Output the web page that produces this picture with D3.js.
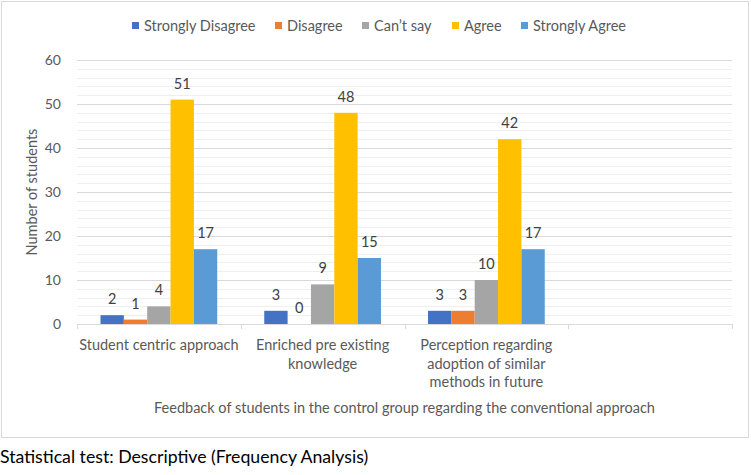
<!DOCTYPE html>
<html>
<head>
<meta charset="utf-8">
<script src="https://cdn.jsdelivr.net/npm/d3@7"></script>
<style>
  body { margin: 0; background: #fff; }
  svg { display: block; font-family: Lato, "Open Sans", sans-serif; }
</style>
</head>
<body>
<svg id="chart" width="751" height="475"></svg>
<script>
// data
const categories = [
    ["Student centric approach"],
    ["Enriched pre existing", "knowledge"],
    ["Perception regarding", "adoption of similar", "methods in future"],
    [""]
];
const seriesNames = ["Strongly Disagree", "Disagree", "Can\u2019t say", "Agree", "Strongly Agree"];
const seriesColors = ["#4472C4", "#ED7D31", "#A5A5A5", "#FFC000", "#5B9BD5"];
const values = [
    [2, 1, 4, 51, 17],
    [3, 0, 9, 48, 15],
    [3, 3, 10, 42, 17]
];
const yTicks = [0, 10, 20, 30, 40, 50, 60];

const margins = { top: 60, right: 19, bottom: 151, left: 77 };
const width = 751;
const height = 475;
const plotBottom = 324;

const svg = d3.select("#chart");

// chart frame
svg.append("rect")
    .attr("x", 1.5).attr("y", 1.5)
    .attr("width", 747).attr("height", 436)
    .attr("fill", "#fff")
    .attr("stroke", "#D9D9D9");

const x0 = d3.scaleBand()
    .domain(d3.range(categories.length))
    .range([margins.left, width - margins.right])
    .paddingInner(0.287)
    .paddingOuter(0.1435);
const x1 = d3.scaleBand()
    .domain(d3.range(seriesNames.length))
    .range([0, x0.bandwidth()]);
const y = d3.scaleLinear()
    .domain([0, 60])
    .range([plotBottom, margins.top]);

// minor gridlines
svg.append("g")
    .selectAll("line")
    .data(d3.range(0, 61, 2).filter(v => v % 10 != 0))
    .join("line")
    .attr("x1", margins.left).attr("x2", width - margins.right)
    .attr("y1", d => Math.round(y(d)) + 0.5).attr("y2", d => Math.round(y(d)) + 0.5)
    .attr("stroke", "#EFEFEF");

// y axis
const gy = svg.append("g")
    .attr("transform", `translate(${margins.left},0)`)
    .call(d3.axisLeft(y).tickValues(yTicks).tickSize(-(width - margins.left - margins.right)).tickPadding(16))
    .call(g => g.select(".domain").remove());
gy.selectAll(".tick line").attr("stroke", "#D9D9D9");
gy.selectAll(".tick text")
    .attr("fill", "#595959")
    .attr("font-size", 14)
    .attr("font-family", "Lato, sans-serif");
gy.select(".tick line").remove(); // baseline drawn by x axis

// bars
const groups = svg.append("g")
    .selectAll("g")
    .data(values)
    .join("g")
    .attr("transform", (d, i) => `translate(${x0(i)},0)`);

groups.selectAll("rect")
    .data(d => d)
    .join("rect")
    .attr("x", (d, j) => x1(j))
    .attr("y", d => y(d))
    .attr("width", x1.bandwidth())
    .attr("height", d => y(0) - y(d))
    .attr("fill", (d, j) => seriesColors[j]);

groups.selectAll("text")
    .data(d => d)
    .join("text")
    .attr("x", (d, j) => x1(j) + x1.bandwidth() / 2)
    .attr("y", d => y(d) - 11)
    .attr("text-anchor", "middle")
    .attr("fill", "#404040")
    .attr("font-size", 14.5)
    .text(d => d);

// x axis
const step = x0.step();
const boundaries = d3.range(categories.length + 1).map(i => margins.left + i * step);
const gx = svg.append("g");
gx.append("line")
    .attr("x1", margins.left).attr("x2", width - margins.right)
    .attr("y1", plotBottom + 0.5).attr("y2", plotBottom + 0.5)
    .attr("stroke", "#D9D9D9");
gx.selectAll(".tk")
    .data(boundaries)
    .join("line")
    .attr("class", "tk")
    .attr("x1", d => Math.round(d) + 0.5).attr("x2", d => Math.round(d) + 0.5)
    .attr("y1", plotBottom).attr("y2", plotBottom + 5)
    .attr("stroke", "#D9D9D9");

const catLabels = gx.selectAll(".cat")
    .data(categories)
    .join("text")
    .attr("class", "cat")
    .attr("text-anchor", "middle")
    .attr("fill", "#595959")
    .attr("font-size", 14.5);
catLabels.selectAll("tspan")
    .data((d, i) => d.map(t => ({ t, i })))
    .join("tspan")
    .attr("x", d => x0(d.i) + x0.bandwidth() / 2)
    .attr("y", (d, k) => 350 + k * 18.5)
    .text(d => d.t);

// axis titles
svg.append("text")
    .attr("transform", `translate(37,${(y(0) + y(60)) / 2}) rotate(-90)`)
    .attr("text-anchor", "middle")
    .attr("fill", "#595959")
    .attr("font-size", 14.5)
    .text("Number of students");

svg.append("text")
    .attr("x", (margins.left + width - margins.right) / 2)
    .attr("y", 413)
    .attr("text-anchor", "middle")
    .attr("fill", "#595959")
    .attr("font-size", 14.5)
    .text("Feedback of students in the control group regarding the conventional approach");

// legend
const legendX = [132, 275, 362, 452, 521];
const legend = svg.append("g")
    .selectAll("g")
    .data(seriesNames)
    .join("g")
    .attr("transform", (d, i) => `translate(${legendX[i]},26)`);
legend.append("rect")
    .attr("x", 0).attr("y", -4)
    .attr("width", 7).attr("height", 7)
    .attr("fill", (d, i) => seriesColors[i]);
legend.append("text")
    .attr("x", 12).attr("y", 5)
    .attr("fill", "#595959")
    .attr("font-size", 14.5)
    .text(d => d);

// caption below the chart
svg.append("text")
    .attr("x", 0)
    .attr("y", 463)
    .attr("fill", "#000")
    .attr("font-size", 17.7)
    .text("Statistical test: Descriptive (Frequency Analysis)");
</script>
</body>
</html>
